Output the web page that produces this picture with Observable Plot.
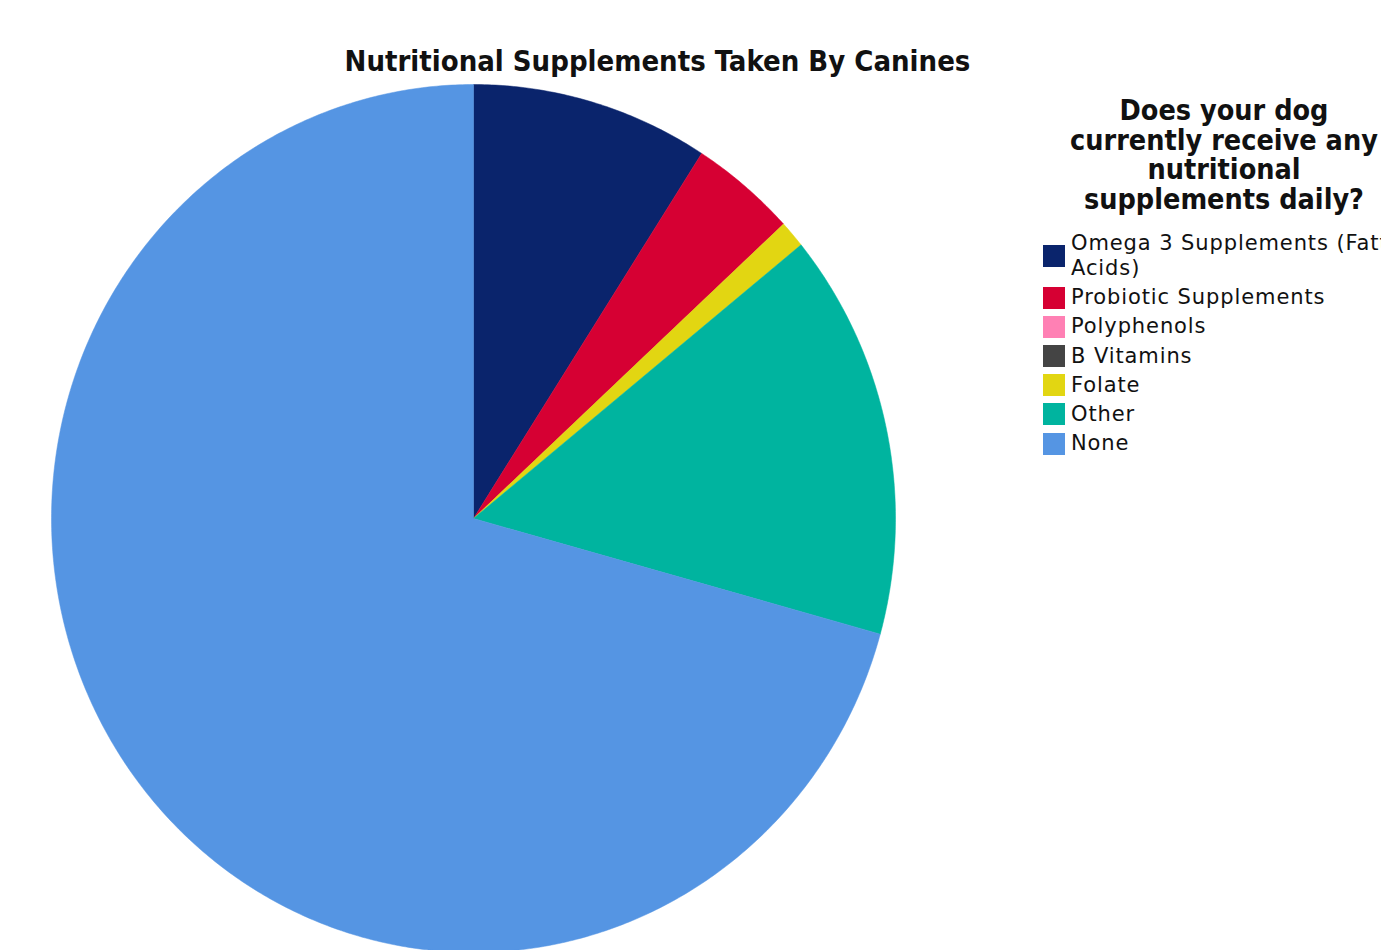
<!DOCTYPE html>
<html>
<head>
<meta charset="utf-8">
<script src="https://cdn.jsdelivr.net/npm/d3@7"></script>
<script src="https://cdn.jsdelivr.net/npm/@observablehq/plot@0.6"></script>
<style>
  html, body { margin: 0; padding: 0; background: #fff; overflow: hidden; }
  #page { position: relative; width: 1381px; height: 950px; overflow: hidden; }
  #chart { position: absolute; left: 0; top: 0; }
  #title { position: absolute; left: 0; width: 1315px; top: 44px; text-align: center; line-height: 34px;
           font-family: "DejaVu Sans Condensed", "DejaVu Sans", sans-serif; font-weight: bold; font-size: 29px; color: #111; white-space: nowrap; }
  #legend-title { position: absolute; left: 1024px; top: 96px; width: 400px; text-align: center;
                  font-family: "DejaVu Sans Condensed", "DejaVu Sans", sans-serif; font-weight: bold;
                  font-size: 28.5px; line-height: 29.5px; color: #111; white-space: nowrap; }
  #items { position: absolute; left: 1043px; top: 231px; width: 420px; }
  .item { display: flex; align-items: center; font-family: "DejaVu Sans", sans-serif; font-size: 21px;
          letter-spacing: 0.9px; line-height: 25px; color: #111; margin-bottom: 4.2px; }
  .sw { width: 22px; height: 22px; flex: none; margin-right: 6px; }
  .lab { width: 365px; }
</style>
</head>
<body>
<div id="page">
  <div id="chart"></div>
  <div id="title">Nutritional Supplements Taken By Canines</div>
  <div id="legend-title">Does your dog<br>currently receive any<br>nutritional<br>supplements daily?</div>
  <div id="items"></div>
</div>
<script>
const categories = ["Omega 3 Supplements (Fatty Acids)", "Probiotic Supplements", "Polyphenols", "B Vitamins", "Folate", "Other", "None"];
const counts = [9, 4, 0, 0, 1, 15, 70];
const colors = ["#0a246c", "#d60033", "#ff80b4", "#444444", "#e2d612", "#00b49f", "#5595e3"];

const data = categories.map((name, i) => ({name, count: counts[i]}));
const arcs = d3.pie().sort(null).value(d => d.count)(data);

// outline points for each slice (unit circle; x/y scales stretch it to the ellipse)
const pts = [];
for (const a of arcs) {
  if (a.endAngle - a.startAngle <= 0) continue;
  const name = a.data.name;
  pts.push({name, x: 0, y: 0});
  const n = Math.max(2, Math.ceil((a.endAngle - a.startAngle) / (Math.PI / 360)));
  for (let k = 0; k <= n; k++) {
    const t = a.startAngle + (a.endAngle - a.startAngle) * k / n;
    pts.push({name, x: Math.sin(t), y: Math.cos(t)});
  }
  pts.push({name, x: 0, y: 0});
}

const chart = Plot.plot({
  width: 1000,
  height: 950,
  margin: 0,
  x: {domain: [-1, 1], range: [51, 895], axis: null},
  y: {domain: [-1, 1], range: [952, 84], axis: null},
  color: {domain: categories, range: colors},
  marks: [
    Plot.line(pts, {x: "x", y: "y", z: "name", fill: "name", stroke: "name", strokeWidth: 0.5, curve: "linear"})
  ]
});
document.getElementById("chart").appendChild(chart);

const items = document.getElementById("items");
categories.forEach((c, i) => {
  const row = document.createElement("div");
  row.className = "item";
  const sw = document.createElement("div");
  sw.className = "sw";
  sw.style.background = colors[i];
  const lab = document.createElement("div");
  lab.className = "lab";
  lab.textContent = c;
  row.appendChild(sw); row.appendChild(lab);
  items.appendChild(row);
});
</script>
</body>
</html>
